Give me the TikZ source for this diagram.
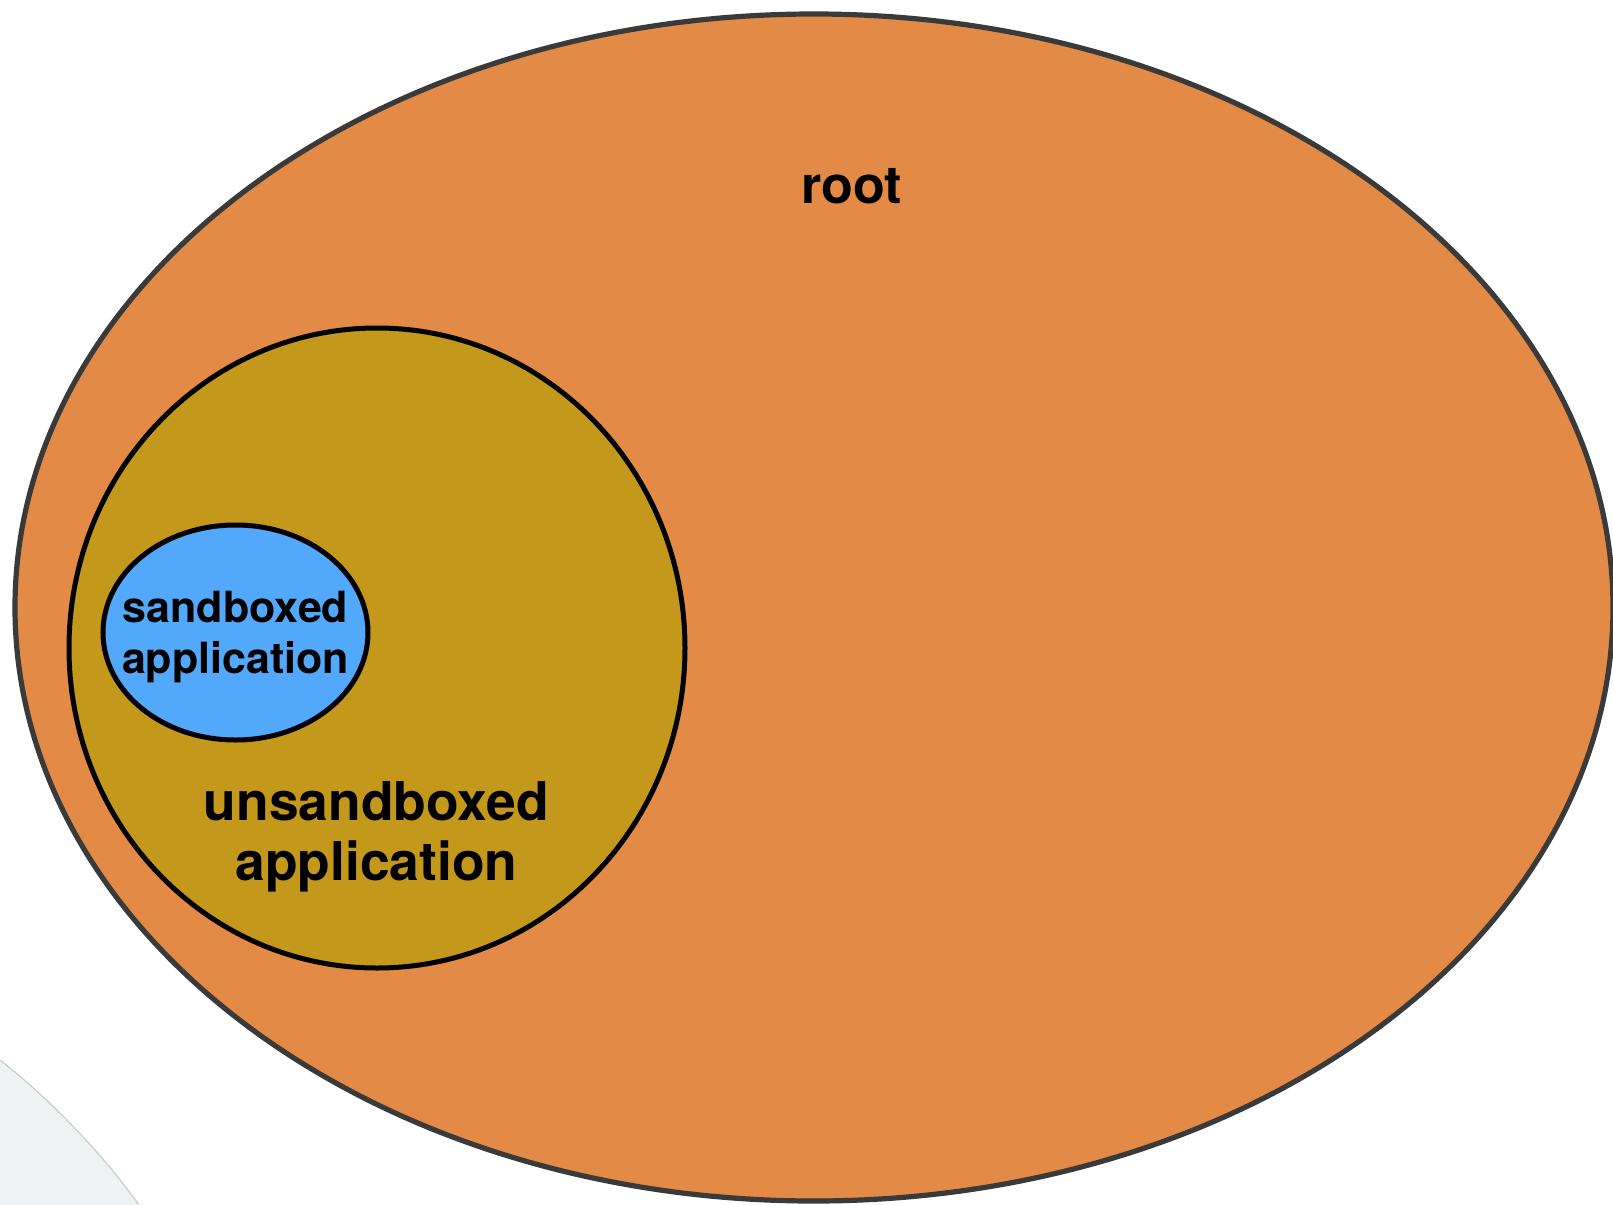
\documentclass[tikz,border=0pt]{standalone}
\usepackage{fontspec}
\setmainfont{TeX Gyre Heros}
\usetikzlibrary{shapes.geometric}

\definecolor{rootfill}{HTML}{E38A47}
\definecolor{rootline}{HTML}{3A3A3A}
\definecolor{unsbfill}{HTML}{C3981B}
\definecolor{sbfill}{HTML}{52A8FA}
\definecolor{cornerfill}{HTML}{EFF2F3}
\definecolor{cornerline}{HTML}{C9CDCF}

\tikzset{
  region/.style={ellipse, inner sep=0pt, outer sep=0pt},
  rootregion/.style={region, draw=rootline, fill=rootfill, line width=2.6pt},
  appregion/.style={region, draw=black, line width=2.5pt},
  caption/.style={inner sep=0pt, anchor=base, font=\bfseries}
}

\begin{document}
\begin{tikzpicture}[x=0.5pt, y=-0.5pt]
  \useasboundingbox (0,0) rectangle (1613,1205);

  % pale shape in the lower left corner
  \coordinate (c1) at (0,1060);
  \coordinate (c2) at (139,1205);
  \coordinate (c3) at (0,1205);
  \fill[cornerfill] (c1) .. controls (45,1095) and (100,1150) .. (c2) -- (c3) -- cycle;
  \draw[cornerline, line width=0.6pt] (c1) .. controls (45,1095) and (100,1150) .. (c2);

  % nested privilege regions
  \node[rootregion, minimum width=799pt, minimum height=593.5pt] (root) at (814,607.5) {};
  \node[appregion, fill=unsbfill, minimum width=308pt, minimum height=320pt] (unsb) at (377,648) {};
  \node[appregion, fill=sbfill, minimum width=132.5pt, minimum height=107.5pt] (sb) at (235.5,632.5) {};

  % labels
  \node[caption, font=\bfseries\fontsize{26pt}{30pt}\selectfont] (rootlbl) at (851.5,203) {root};

  \node[caption, font=\bfseries\fontsize{26.7pt}{30pt}\selectfont] (unsblbla) at (376.5,820) {unsandboxed};
  \node[caption, font=\bfseries\fontsize{26.7pt}{30pt}\selectfont] (unsblblb) at (376.5,880) {application};

  \node[caption, font=\bfseries\fontsize{21.5pt}{25.5pt}\selectfont] (sblbla) at (235.5,622) {sandboxed};
  \node[caption, font=\bfseries\fontsize{21.5pt}{25.5pt}\selectfont] (sblblb) at (235.5,673) {application};
\end{tikzpicture}
\end{document}
